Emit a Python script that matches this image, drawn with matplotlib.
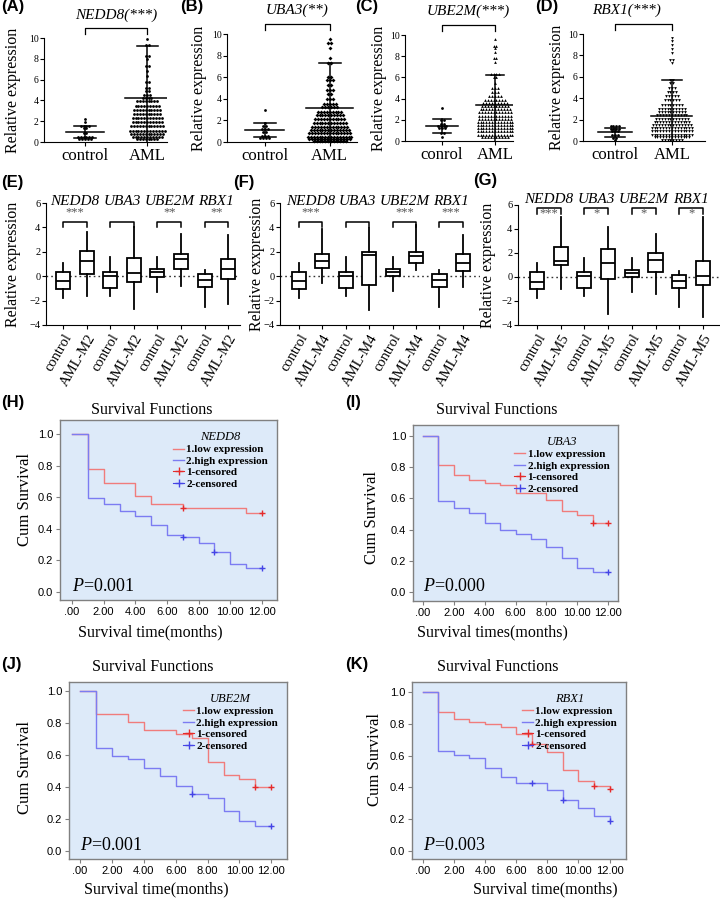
import numpy as np
import matplotlib
matplotlib.use("Agg")
import matplotlib.pyplot as plt
from matplotlib.lines import Line2D

plt.rcParams['font.family'] = ['Liberation Serif', 'DejaVu Serif']
plt.rcParams['mathtext.fontset'] = 'custom'
plt.rcParams['mathtext.rm'] = 'Liberation Serif'
plt.rcParams['mathtext.it'] = 'Liberation Serif:italic'
SANS = ['Liberation Sans', 'DejaVu Sans']

W, H = 720, 900

# ---------------- data: dot plots (A-D), rows of points (value, count) ----------------
top_genes = ['NEDD8', 'UBA3', 'UBE2M', 'RBX1']
top_stars = ['***', '**', '***', '***']
top_ctrl_names = ['control', 'control', 'conrol', 'control']
top_markers = ['o', 'D', '^', 'v']

a_ctrl_lv = [2.2, 1.9, 1.5, 1.3, 0.9, 0.5, 0.3]
a_ctrl_n = [1, 1, 4, 2, 2, 6, 5]
a_aml_lv = [9.9, 9.3, 8.3, 8.0, 7.3, 6.8, 6.3, 5.8, 5.2, 4.9, 4.5, 4.2, 3.9, 3.5,
            3.1, 2.7, 2.3, 1.9, 1.5, 1.1, 0.8, 0.5, 0.25]
a_aml_n = [1, 2, 2, 1, 2, 1, 1, 2, 2, 2, 3, 4, 8, 9, 10, 10, 11, 11, 12, 13, 12, 11, 8]
a_mean, a_hi, a_lo = [0.95, 4.2], [1.5, 9.2], [0.4, 0.0]

b_ctrl_lv = [3.0, 1.8, 1.5, 1.2, 0.9, 0.6, 0.4]
b_ctrl_n = [1, 1, 2, 3, 2, 3, 4]
b_aml_lv = [9.5, 9.2, 8.7, 7.8, 7.3, 6.0, 5.7, 5.3, 4.8, 4.4, 4.0, 3.5, 3.2, 2.8,
            2.5, 2.1, 1.8, 1.4, 1.1, 0.8, 0.5, 0.25, 0.05]
b_aml_n = [1, 2, 1, 1, 2, 2, 3, 2, 3, 2, 3, 5, 6, 9, 10, 11, 12, 13, 14, 15, 16, 15, 12]
b_mean, b_hi, b_lo = [1.1, 3.15], [1.8, 7.3], [0.45, 0.0]

c_ctrl_lv = [3.1, 2.0, 1.6, 1.4, 1.2, 0.8, 0.4]
c_ctrl_n = [1, 2, 2, 4, 3, 2, 1]
c_aml_lv = [9.6, 9.0, 8.8, 8.4, 7.8, 7.5, 6.3, 6.0, 5.5, 5.0, 4.6, 4.2, 3.9, 3.6,
            3.3, 3.0, 2.7, 2.4, 2.1, 1.8, 1.5, 1.2, 0.9, 0.6, 0.35]
c_aml_n = [1, 2, 1, 1, 2, 1, 4, 2, 1, 3, 3, 5, 8, 9, 10, 11, 12, 12, 12, 13, 13, 13, 13, 13, 10]
c_mean, c_hi, c_lo = [1.4, 3.35], [2.05, 6.2], [0.75, 0.0]

d_ctrl_lv = [1.4, 1.1, 0.9, 0.6, 0.3, 0.1]
d_ctrl_n = [4, 4, 3, 3, 2, 1]
d_aml_lv = [9.6, 9.3, 9.0, 8.6, 8.2, 7.6, 7.3, 5.7, 5.4, 5.0, 4.6, 4.2, 3.8, 3.4,
            3.0, 2.7, 2.4, 2.1, 1.8, 1.5, 1.2, 0.9, 0.6, 0.35, 0.1]
d_aml_n = [1, 1, 1, 1, 1, 2, 1, 2, 2, 3, 4, 5, 6, 8, 10, 10, 11, 12, 13, 14, 15, 15, 15, 13, 8]
d_mean, d_hi, d_lo = [0.8, 2.35], [1.25, 5.7], [0.35, 0.0]

# ---------------- data: box plots (E-G) ----------------
box_genes = ['NEDD8', 'UBA3', 'UBE2M', 'RBX1']

e_hi = [1.1, 3.6, 1.56, 4.0, 1.6, 3.5, 0.47, 3.35]
e_q3 = [0.38, 2.1, 0.36, 1.5, 0.6, 1.8, 0.16, 1.42]
e_med = [-0.41, 1.23, 0.05, 0.27, 0.33, 1.42, -0.33, 0.6]
e_q1 = [-1.04, 0.14, -0.96, -0.49, -0.05, 0.55, -0.88, -0.27]
e_lo = [-1.78, -1.64, -1.64, -2.66, -1.29, -0.82, -2.52, -2.3]
e_sig = ['***', '', '**', '**']

f_hi = [1.1, 3.9, 1.56, 3.95, 1.6, 4.2, 0.47, 3.35]
f_q3 = [0.38, 1.78, 0.36, 1.97, 0.6, 2.0, 0.16, 1.78]
f_med = [-0.41, 1.23, 0.05, 1.75, 0.36, 1.63, -0.3, 1.07]
f_q1 = [-1.04, 0.68, -0.96, -0.7, 0.0, 1.06, -0.88, 0.4]
f_lo = [-1.78, -0.55, -1.64, -2.75, -1.25, 0.5, -2.5, -0.92]
f_sig = ['***', '', '***', '***']

g_hi = [1.15, 5.0, 1.6, 4.2, 1.6, 3.6, 0.47, 5.0]
g_q3 = [0.4, 2.5, 0.4, 2.35, 0.6, 2.0, 0.18, 1.35]
g_med = [-0.42, 1.3, 0.05, 1.15, 0.36, 1.43, -0.3, 0.08]
g_q1 = [-1.0, 0.96, -0.95, -0.2, 0.0, 0.42, -0.9, -0.65]
g_lo = [-1.75, -1.0, -1.6, -3.08, -1.27, -1.4, -2.5, -3.35]
g_sig = ['***', '*', '*', '*']

# ---------------- data: survival (H-K) ----------------
months = list(range(13))
h_low = [1.0, 0.778, 0.693, 0.693, 0.609, 0.556, 0.556, 0.533, 0.533, 0.533, 0.533, 0.50, 0.50]
h_high = [1.0, 0.592, 0.556, 0.512, 0.48, 0.427, 0.36, 0.349, 0.313, 0.25, 0.18, 0.154, 0.154]
h_cens_low, h_cens_high = [7, 12], [7, 9, 12]

i_low = [1.0, 0.813, 0.749, 0.717, 0.70, 0.685, 0.634, 0.634, 0.589, 0.521, 0.494, 0.445, 0.445]
i_high = [1.0, 0.585, 0.54, 0.509, 0.445, 0.398, 0.372, 0.338, 0.291, 0.217, 0.153, 0.126, 0.126]
i_cens_low, i_cens_high = [11, 12], [12]

j_low = [1.0, 0.854, 0.854, 0.806, 0.756, 0.756, 0.729, 0.704, 0.553, 0.478, 0.453, 0.403, 0.403]
j_high = [1.0, 0.641, 0.595, 0.574, 0.516, 0.47, 0.405, 0.355, 0.334, 0.25, 0.188, 0.157, 0.157]
j_cens_low, j_cens_high = [11, 12], [7, 12]

k_low = [1.0, 0.876, 0.828, 0.809, 0.796, 0.779, 0.733, 0.67, 0.62, 0.508, 0.441, 0.41, 0.39]
k_high = [1.0, 0.63, 0.603, 0.588, 0.525, 0.464, 0.431, 0.431, 0.387, 0.324, 0.273, 0.22, 0.187]
k_cens_low, k_cens_high = [7, 11, 12], [7, 9, 12]

surv_genes = ['NEDD8', 'UBA3', 'UBE2M', 'RBX1']
surv_p = ['0.001', '0.000', '0.001', '0.003']
surv_xlabels = ['Survival time(months)', 'Survival times(months)',
                'Survival time(months)', 'Survival time(months)']


def add_px_axes(fig, left, top, right, bottom):
    return fig.add_axes([left / W, 1 - bottom / H, (right - left) / W, (bottom - top) / H])


def fig_label(fig, x, y, s, **kw):
    fig.text(x / W, 1 - y / H, s, **kw)


fig = plt.figure(figsize=(7.2, 9), dpi=100)

# ---------------- row 1: dot plots ----------------
top_rects = [(44, 38, 167, 142), (227, 34, 357, 142), (405, 35, 513, 141), (583, 34, 705, 141)]
top_xlims = [(-0.66, 1.32), (-0.58, 1.42), (-0.7, 1.34), (-0.56, 1.58)]
top_ylab_x = [21, 207, 387, 565]
top_data = [
    (a_ctrl_lv, a_ctrl_n, a_aml_lv, a_aml_n, a_mean, a_hi, a_lo),
    (b_ctrl_lv, b_ctrl_n, b_aml_lv, b_aml_n, b_mean, b_hi, b_lo),
    (c_ctrl_lv, c_ctrl_n, c_aml_lv, c_aml_n, c_mean, c_hi, c_lo),
    (d_ctrl_lv, d_ctrl_n, d_aml_lv, d_aml_n, d_mean, d_hi, d_lo),
]
top_title_x = [0.5, 0.5, 0.5, 0.2]

for k in range(4):
    left, top, right, bottom = top_rects[k]
    ax = add_px_axes(fig, left, top, right, bottom)
    ax.set_xlim(*top_xlims[k])
    ax.set_ylim(0, 10)
    dx = 2.9 * (top_xlims[k][1] - top_xlims[k][0]) / (right - left)
    clv, cn, alv, an, mean, hi, lo = top_data[k]
    for x0, lvs, ns, mk in [(0, clv, cn, 'o'), (1, alv, an, top_markers[k])]:
        xs, ys = [], []
        for lv, n in zip(lvs, ns):
            xs.extend(x0 + (np.arange(n) - (n - 1) / 2) * dx)
            ys.extend([lv] * n)
        ax.plot(xs, ys, ls='none', marker=mk, ms=2.0, color='black', mew=0, clip_on=False)
    for x0, half in [(0, 0.3), (1, 0.36)]:
        ax.plot([x0 - half, x0 + half], [mean[x0], mean[x0]], color='k', lw=1.1)
        ax.plot([x0, x0], [lo[x0], hi[x0]], color='k', lw=1.1)
        ax.plot([x0 - 0.17, x0 + 0.17], [hi[x0], hi[x0]], color='k', lw=1.1)
        if lo[x0] > 0:
            ax.plot([x0 - 0.17, x0 + 0.17], [lo[x0], lo[x0]], color='k', lw=1.1)
    for s in ['top', 'right']:
        ax.spines[s].set_visible(False)
    ax.set_yticks(range(0, 11, 2))
    ax.tick_params(axis='y', labelsize=7, length=3, width=0.8, pad=1)
    ax.set_xticks([0, 1])
    ax.set_xticklabels([top_ctrl_names[k], 'AML'], fontsize=12)
    ax.tick_params(axis='x', length=3, width=0.8, pad=1)
    ax.set_ylabel('Relative expression', fontsize=11.5)
    ax.yaxis.set_label_coords((top_ylab_x[k] - left) / (right - left), 0.5)
    tr = ax.get_xaxis_transform()
    ax.plot([0, 0, 1, 1], [1.04, 1.095, 1.095, 1.04], color='k', lw=0.9,
            transform=tr, clip_on=False)
    ax.text(top_title_x[k], 1.22, f'{top_genes[k]}({top_stars[k]})', transform=tr,
            ha='center', va='center', style='italic', fontsize=11)

for x, s in [(1, '(A)'), (180, '(B)'), (355, '(C)'), (535, '(D)')]:
    fig_label(fig, x, 7, s, fontsize=12, fontweight='bold', family=SANS, va='center')

# ---------------- row 2: box plots ----------------
box_rects = [(46, 203, 240, 325), (280, 203, 480, 325), (518, 205, 720, 325)]
box_xlims = [(0.28, 8.5), (0.19, 8.73), (0.2, 8.72)]
box_ylab_x = [21, 265, 496]
box_data = [
    (e_hi, e_q3, e_med, e_q1, e_lo, e_sig, 'AML-M2', 'Relative expression', 6.1, 4.0, 4.45, 5.2),
    (f_hi, f_q3, f_med, f_q1, f_lo, f_sig, 'AML-M4', 'Relative exxpression', 6.1, 4.0, 4.45, 5.2),
    (g_hi, g_q3, g_med, g_q1, g_lo, g_sig, 'AML-M5', 'Relative expression', 6.45, 5.25, 5.75, 5.3),
]

for k in range(3):
    hi, q3, med, q1, lo, sig, grp, ylab, gy, leg, top, sy = box_data[k]
    left, btop, right, bottom = box_rects[k]
    ax = add_px_axes(fig, left, btop, right, bottom)
    stats = [dict(whislo=lo[i], q1=q1[i], med=med[i], q3=q3[i], whishi=hi[i]) for i in range(8)]
    ax.bxp(stats, positions=range(1, 9), widths=0.6, showfliers=False, showcaps=False,
           patch_artist=True,
           boxprops=dict(facecolor='white', edgecolor='black', lw=1.3),
           medianprops=dict(color='black', lw=1.3),
           whiskerprops=dict(color='black', lw=1.3))
    ax.axhline(0, color='#333333', lw=1.0, ls=(0, (1.2, 2.2)), zorder=0)
    ax.set_xlim(*box_xlims[k])
    ax.set_ylim(-4, 6)
    for s in ['top', 'right']:
        ax.spines[s].set_visible(False)
    ax.set_yticks(range(-4, 7, 2))
    ax.tick_params(axis='y', labelsize=7.5, length=3, width=0.8, pad=1)
    ax.set_xticks(range(1, 9))
    ax.set_xticklabels(['control', grp] * 4, rotation=60, ha='right',
                       rotation_mode='anchor', fontsize=10.5)
    ax.tick_params(axis='x', length=3, width=0.8, pad=2)
    ax.set_ylabel(ylab, fontsize=11.5)
    ax.yaxis.set_label_coords((box_ylab_x[k] - left) / (right - left), 0.5)
    for j in range(4):
        a, b = 2 * j + 1, 2 * j + 2
        ax.text((a + b) / 2, gy, box_genes[j], ha='center', va='center',
                style='italic', fontsize=11, clip_on=False)
        ax.plot([a, a, b, b], [leg, top, top, leg], color='k', lw=1.1, clip_on=False)
        if sig[j]:
            ax.text((a + b) / 2, sy, sig[j], ha='center', va='center',
                    fontsize=9, color='#555555', clip_on=False)

for x, y, s in [(1, 183, '(E)'), (233, 183, '(F)'), (473, 180, '(G)')]:
    fig_label(fig, x, y, s, fontsize=12, fontweight='bold', family=SANS, va='center')

# ---------------- rows 3-4: survival curves ----------------
surv_rects = [(60, 420, 277, 600), (413, 425, 618, 601), (69, 682, 287, 859), (412, 682, 626, 859)]
surv_xlims = [(-0.76, 12.95), (-0.65, 12.65), (-0.69, 12.98), (-0.69, 13.06)]
surv_ylims = [(-0.051, 1.089), (-0.058, 1.07), (-0.05, 1.056), (-0.05, 1.063)]
surv_data = [
    (h_low, h_high, h_cens_low, h_cens_high),
    (i_low, i_high, i_cens_low, i_cens_high),
    (j_low, j_high, j_cens_low, j_cens_high),
    (k_low, k_high, k_cens_low, k_cens_high),
]
surv_title_pos = [(152, 410), (497, 410), (153, 667), (498, 667)]
surv_xlab_pos = [(150, 632), (492, 632), (156, 889), (545, 889)]
surv_ylab_pos = [(25, 500), (372, 517), (25, 767), (375, 760)]

red_line, blue_line = '#F07C7C', '#7C7CF2'
red_mark, blue_mark = '#E52B2B', '#4444E6'

for k in range(4):
    low, high, cl, ch = surv_data[k]
    ax = add_px_axes(fig, *surv_rects[k])
    ax.set_facecolor('#DDEAF9')
    ax.step(months, low, where='post', color=red_line, lw=1.0)
    ax.step(months, high, where='post', color=blue_line, lw=1.0)
    ax.plot(cl, [low[t] for t in cl], ls='none', marker='+', ms=5, mew=1.0, color=red_mark)
    ax.plot(ch, [high[t] for t in ch], ls='none', marker='+', ms=5, mew=1.0, color=blue_mark)
    ax.set_xlim(*surv_xlims[k])
    ax.set_ylim(*surv_ylims[k])
    for s in ax.spines.values():
        s.set_color('#808080')
        s.set_linewidth(1.0)
    ax.set_xticks(range(0, 13, 2))
    ax.set_xticklabels(['.00', '2.00', '4.00', '6.00', '8.00', '10.00', '12.00'])
    ax.set_yticks([0, 0.2, 0.4, 0.6, 0.8, 1.0])
    ax.set_yticklabels(['0.0', '0.2', '0.4', '0.6', '0.8', '1.0'])
    for lab in ax.get_xticklabels() + ax.get_yticklabels():
        lab.set_family(SANS)
        lab.set_fontsize(8)
    ax.tick_params(length=3, width=0.8, color='#808080', pad=2)
    ax.text(0, 0.035, '$\\it{P}$' + '=' + surv_p[k], fontsize=13, ha='left', va='center')
    handles = [Line2D([], [], color=red_line, lw=1.0),
               Line2D([], [], color=blue_line, lw=1.0),
               Line2D([], [], color=red_mark, lw=0.8, marker='+', ms=6),
               Line2D([], [], color=blue_mark, lw=0.8, marker='+', ms=6)]
    leg = ax.legend(handles, ['1.low expression', '2.high expression', '1-censored', '2-censored'],
                    title=surv_genes[k], loc='upper right', bbox_to_anchor=(0.985, 0.97),
                    frameon=False, borderpad=0, labelspacing=0.15, handlelength=1.0,
                    handletextpad=0.2,
                    prop=dict(family='Liberation Serif', weight='bold', size=8))
    leg.get_title().set_fontstyle('italic')
    leg.get_title().set_fontsize(9)
    tx, ty = surv_title_pos[k]
    fig_label(fig, tx, ty, 'Survival Functions', fontsize=11.5, ha='center', va='center')
    xx, xy = surv_xlab_pos[k]
    fig_label(fig, xx, xy, surv_xlabels[k], fontsize=11.5, ha='center', va='center')
    yx, yy = surv_ylab_pos[k]
    fig_label(fig, yx, yy, 'Cum Survival', fontsize=12, ha='center', va='center', rotation=90)

for x, y, s in [(1, 402, '(H)'), (345, 402, '(I)'), (1, 664, '(J)'), (345, 664, '(K)')]:
    fig_label(fig, x, y, s, fontsize=12, fontweight='bold', family=SANS, va='center')

fig.savefig('out.png', dpi=100)
